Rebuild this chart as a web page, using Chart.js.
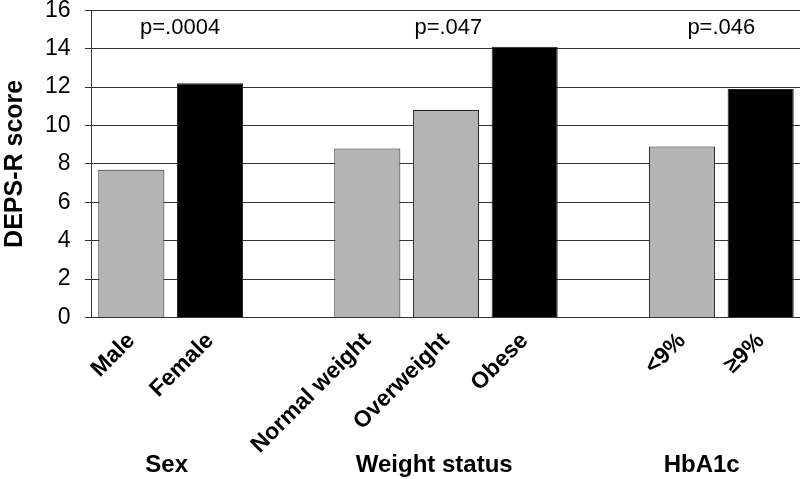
<!DOCTYPE html>
<html>
<head>
<meta charset="utf-8">
<script src="https://cdn.jsdelivr.net/npm/chart.js@4/dist/chart.umd.min.js"></script>
<style>
  body { margin: 0; background: #fff; }
  #wrap { width: 800px; height: 479px; position: relative; }
</style>
</head>
<body>
<div id="wrap"><canvas id="myChart"></canvas></div>
<script>
// data
const categories = ["Male", "Female", "", "Normal weight", "Overweight", "Obese", "", "<9%", "\u22659%"];
const scores = [7.7, 12.2, null, 8.8, 10.8, 14.1, null, 8.9, 11.9];
const groups = ["Sex", "Weight status", "HbA1c"];
const pValues = ["p=.0004", "p=.047", "p=.046"];
const yTicks = [0, 2, 4, 6, 8, 10, 12, 14, 16];

// styling / placement (not data)
const darkIdx = [1, 5, 8];
const groupAt = [0.45, 3.85, 7.25];
const pAt = [0.62, 4.03, 7.5];
const FONT = "'Liberation Sans', Arial, sans-serif";

const barColors = categories.map((c, i) => darkIdx.includes(i) ? "#000000" : "#b4b4b4");

const annotations = {
    id: "annotations",
    afterDatasetsDraw(chart) {
        const ctx = chart.ctx;
        const x = chart.scales.x;
        const y = chart.scales.y;
        ctx.save();
        ctx.fillStyle = "#000";
        ctx.textAlign = "center";
        ctx.textBaseline = "middle";
        ctx.font = "22px " + FONT;
        pValues.forEach((p, i) => {
            ctx.fillText(p, x.getPixelForValue(pAt[i]), y.getPixelForValue(15.1));
        });
        ctx.font = "bold 24px " + FONT;
        groups.forEach((g, i) => {
            ctx.fillText(g, x.getPixelForValue(groupAt[i]), 465);
        });
        ctx.restore();
    }
};

const myChart = document.querySelector("#myChart").getContext("2d");
// eslint-disable-next-line no-unused-vars
const chart = new Chart(myChart, {
    type: "bar",
    data: {
        labels: categories,
        datasets: [{
            data: scores,
            backgroundColor: barColors,
            borderColor: "#222",
            borderWidth: 1,
            barPercentage: 0.84,
            categoryPercentage: 1
        }]
    },
    options: {
        responsive: true,
        maintainAspectRatio: false,
        animation: false,
        layout: { padding: { top: 0, right: 0, bottom: 18, left: 0 } },
        plugins: { legend: { display: false }, tooltip: { enabled: false } },
        scales: {
            x: {
                grid: { display: false },
                border: { display: true, color: "#333", width: 1 },
                ticks: {
                    autoSkip: false,
                    maxRotation: 45,
                    minRotation: 45,
                    color: "#000",
                    padding: 2,
                    font: { family: FONT, size: 23, weight: "bold" }
                }
            },
            y: {
                min: 0,
                max: 16,
                afterBuildTicks: (axis) => { axis.ticks = yTicks.map(v => ({ value: v })); },
                grid: { color: "#333", lineWidth: 1, tickLength: 7 },
                border: { display: true, color: "#333", width: 1 },
                ticks: {
                    color: "#000",
                    padding: 8,
                    callback: (v) => v + " ",
                    font: { family: FONT, size: 23, lineHeight: 0.2 }
                },
                title: {
                    display: true,
                    text: "DEPS-R score",
                    color: "#000",
                    padding: { top: 0, bottom: 7 },
                    font: { family: FONT, size: 25, weight: "bold" }
                }
            }
        }
    },
    plugins: [annotations]
});
</script>
</body>
</html>
